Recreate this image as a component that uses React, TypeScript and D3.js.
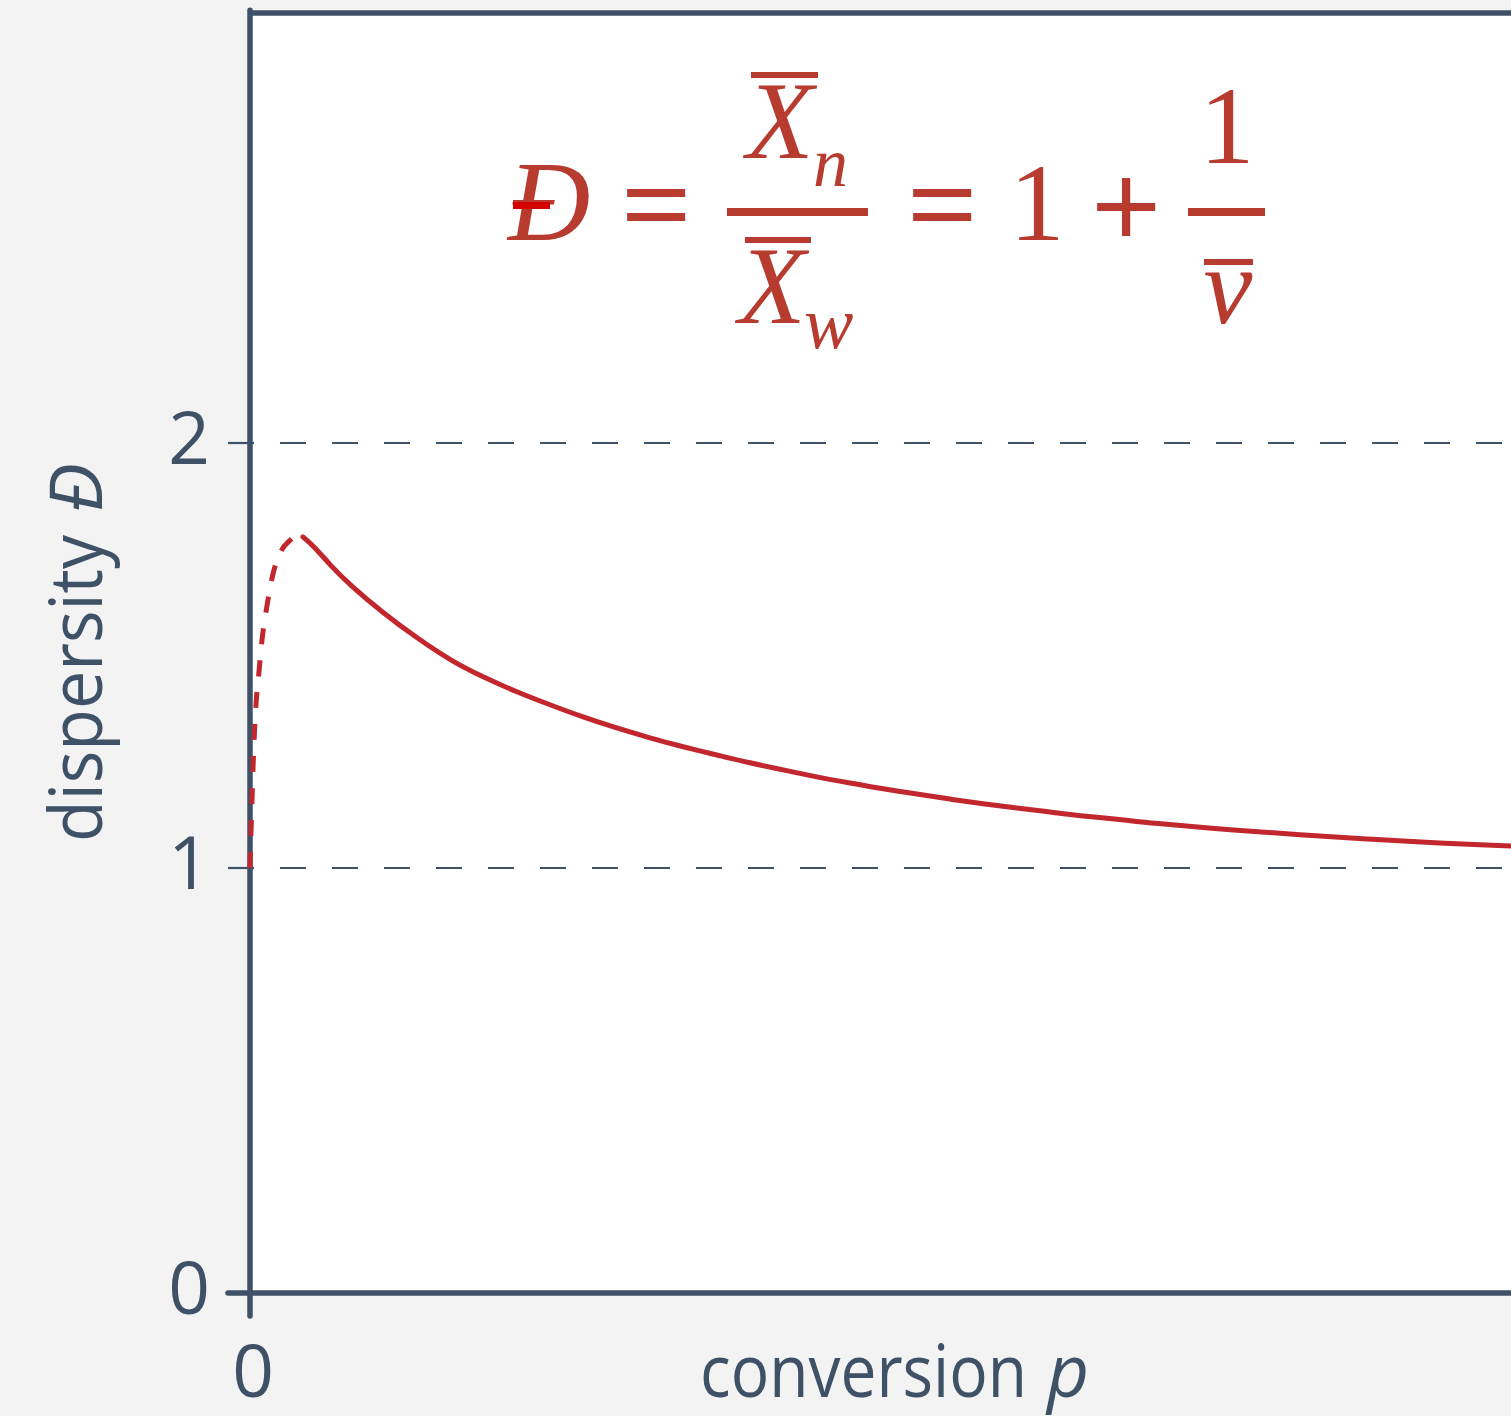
import React from "react";
import * as d3 from "d3";

const W = 1511;
const H = 1416;

// conversion (arbitrary units, 0..100 across the visible plot) vs dispersity
const earlyP = [0, 0.08, 0.16, 0.24, 0.34, 0.48, 0.71, 0.95, 1.32, 1.77, 2.51, 3.1, 3.65, 4.2];
const earlyD = [1.0, 1.085, 1.16, 1.235, 1.311, 1.386, 1.461, 1.536, 1.612, 1.685, 1.748, 1.769, 1.781, 1.779];

const lateP = [4.2, 5.15, 6.34, 7.93, 10.55, 13.24, 15.86, 18.48, 21.17, 23.79, 26.41, 29.1, 31.72, 34.34,
  37.03, 39.65, 42.27, 44.96, 47.58, 50.2, 52.89, 55.51, 58.13, 60.82, 63.44, 66.06, 68.75, 71.37,
  77.95, 83.27, 88.58, 93.81, 100];
const lateD = [1.779, 1.755, 1.713, 1.666, 1.6, 1.541, 1.489, 1.449, 1.414, 1.384, 1.355, 1.329, 1.306, 1.285,
  1.266, 1.247, 1.231, 1.214, 1.2, 1.186, 1.174, 1.162, 1.151, 1.141, 1.132, 1.122, 1.115, 1.106,
  1.089, 1.078, 1.068, 1.059, 1.052];

const yTicks = [0, 1, 2];
const gridValues = [1, 2];
const xTicks = [0];

const axisColor = "#3e5166";
const curveColor = "#c1272d";
const formulaColor = "#b83b2f";
const sans = "'Open Sans', sans-serif";
const serif = "'Liberation Serif', 'Times New Roman', serif";

const x = d3.scaleLinear().domain([0, 100]).range([250, 1511]);
const y = d3.scaleLinear().domain([0, 2]).range([1293, 443]);

const early = earlyP.map((p, i) => [p, earlyD[i]] as [number, number]);
const late = lateP.map((p, i) => [p, lateD[i]] as [number, number]);

const earlyLine = d3
  .line<[number, number]>()
  .x(d => x(d[0]))
  .y(d => y(d[1]))
  .curve(d3.curveMonotoneX);

const lateLine = d3
  .line<[number, number]>()
  .x(d => x(d[0]))
  .y(d => y(d[1]))
  .curve(d3.curveBasis);

function Formula() {
  const big = 110;
  const sub = 70;
  const op = 120;
  return (
    <g fill={formulaColor} fontFamily={serif}>
      {/* D with bar */}
      <text x={508} y={240} fontSize={114} fontStyle="italic">Đ</text>
      <rect x={513} y={202} width={37} height={7} fill="#d40000" />
      <text x={656} y={245} fontSize={op} textAnchor="middle" stroke={formulaColor} strokeWidth={2.2}>=</text>
      {/* first fraction */}
      <rect x={727} y={208} width={141} height={8} />
      <rect x={751} y={72} width={67} height={6} />
      <text x={780} y={158} fontSize={big} fontStyle="italic" textAnchor="middle">X</text>
      <text x={813} y={186} fontSize={sub} fontStyle="italic">n</text>
      <rect x={745} y={237} width={66} height={6} />
      <text x={772} y={323} fontSize={big} fontStyle="italic" textAnchor="middle">X</text>
      <text x={804} y={348} fontSize={74} fontStyle="italic">w</text>
      <text x={942} y={245} fontSize={op} textAnchor="middle" stroke={formulaColor} strokeWidth={2.2}>=</text>
      <text x={1037} y={240} fontSize={big} textAnchor="middle">1</text>
      <text x={1126} y={247} fontSize={op} textAnchor="middle" stroke={formulaColor} strokeWidth={2.2}>+</text>
      {/* second fraction */}
      <rect x={1188} y={208} width={77} height={8} />
      <text x={1227} y={163} fontSize={big} textAnchor="middle">1</text>
      <rect x={1204} y={259} width={49} height={6} />
      <text x={1228} y={323} fontSize={big} fontStyle="italic" textAnchor="middle">v</text>
    </g>
  );
}

export default function App() {
  const top = 13;
  const right = W;
  return (
    <svg width={W} height={H} style={{ position: "absolute", left: 0, top: 0 }}>
      <rect width={W} height={H} fill="#f3f3f3" />
      <rect x={x(0)} y={top} width={right - x(0)} height={y(0) - top} fill="#ffffff" />

      {/* grid */}
      {gridValues.map(v => (
        <line key={v} x1={228} x2={right} y1={y(v)} y2={y(v)}
          stroke={axisColor} strokeWidth={2.2} strokeDasharray="26 26" />
      ))}

      {/* frame */}
      <line x1={x(0)} x2={right + 5} y1={top} y2={top} stroke={axisColor} strokeWidth={5.5} />
      <line x1={x(0)} x2={x(0)} y1={top - 2.7} y2={y(0) + 23} stroke={axisColor} strokeWidth={5.5} strokeLinecap="round" />
      <line x1={228} x2={right + 5} y1={y(0)} y2={y(0)} stroke={axisColor} strokeWidth={5.5} strokeLinecap="round" />

      {/* curve (drawn over the axis, as in the original) */}
      <path d={earlyLine(early) || ""} fill="none" stroke={curveColor} strokeWidth={5} strokeDasharray="16 16" />
      <path d={lateLine(late) || ""} fill="none" stroke={curveColor} strokeWidth={5} strokeLinecap="round" />

      {/* ticks and axis titles */}
      <g fill={axisColor} fontFamily={sans} fontSize={73}>
        {yTicks.map(t => (
          <text key={t} x={210} y={y(t) + 21} textAnchor="end">{t}</text>
        ))}
        {xTicks.map(t => (
          <text key={t} x={x(t) + 3} y={1397} textAnchor="middle">{t}</text>
        ))}
        <text x={700} y={1397} textLength={327} lengthAdjust="spacingAndGlyphs">conversion</text>
        <text x={1047} y={1397} fontStyle="italic">p</text>
        <text transform="translate(102,842) rotate(-90)" textLength={307} lengthAdjust="spacingAndGlyphs">dispersity</text>
        <text transform="translate(102,512) rotate(-90)" fontStyle="italic">Đ</text>
      </g>

      <Formula />
    </svg>
  );
}
